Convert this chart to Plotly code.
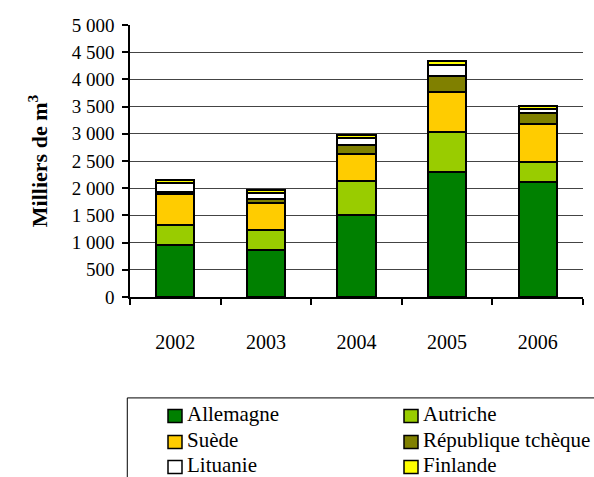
import plotly.graph_objects as go

years = ["2002", "2003", "2004", "2005", "2006"]
allemagne = [950, 860, 1500, 2300, 2110]
autriche = [380, 370, 640, 740, 370]
suede = [560, 500, 490, 730, 700]
rep_tcheque = [45, 65, 160, 300, 200]
lituanie = [160, 115, 135, 200, 70]
finlande = [50, 50, 60, 70, 70]

series = [
    ("Allemagne", allemagne, "#008000"),
    ("Autriche", autriche, "#99CC00"),
    ("Suède", suede, "#FFCC00"),
    ("République tchèque", rep_tcheque, "#808000"),
    ("Lituanie", lituanie, "#FFFFFF"),
    ("Finlande", finlande, "#FFFF00"),
]

FONT = "Liberation Serif"

fig = go.Figure()
for name, vals, color in series:
    fig.add_trace(go.Bar(
        x=years, y=vals, name=name,
        marker=dict(color=color, line=dict(color="black", width=2)),
        showlegend=False,
    ))

# Legend drawn as a framed two-column block below the chart
shapes = [
    dict(type="line", xref="paper", yref="paper",
         x0=-0.006, x1=1.05, y0=-0.371, y1=-0.371,
         line=dict(color="black", width=1)),
    dict(type="line", xref="paper", yref="paper",
         x0=-0.006, x1=-0.006, y0=-0.371, y1=-0.7,
         line=dict(color="black", width=1)),
]
annotations = []
W, H = 453.0, 272.0  # plot area size in px
x0_px, y0_px = 130.0, 25.0
col_x = [168.0, 404.0]
row_y = [416.0, 442.0, 467.0]
for i, (name, vals, color) in enumerate(series):
    cx = col_x[i % 2]
    cy = row_y[i // 2]
    sx0 = (cx - x0_px) / W
    sx1 = (cx + 14 - x0_px) / W
    sy0 = 1 - (cy - 6.5 - y0_px) / H
    sy1 = 1 - (cy + 6.5 - y0_px) / H
    shapes.append(dict(type="rect", xref="paper", yref="paper",
                       x0=sx0, x1=sx1, y0=sy1, y1=sy0,
                       fillcolor=color, line=dict(color="black", width=1.5)))
    annotations.append(dict(
        text=name, xref="paper", yref="paper",
        x=(cx + 17 - x0_px) / W, y=1 - (cy - 2 - y0_px) / H,
        xanchor="left", yanchor="middle", showarrow=False,
        font=dict(family=FONT, size=21, color="black"),
    ))

fig.update_layout(
    width=594, height=477,
    margin=dict(l=130, r=11, t=25, b=180),
    paper_bgcolor="white", plot_bgcolor="white",
    barmode="stack", bargap=0.58,
    separators=", ",
    font=dict(family=FONT, size=19, color="black"),
    shapes=shapes, annotations=annotations,
    xaxis=dict(
        showline=True, linecolor="black", linewidth=1.5,
        ticks="outside", tickson="boundaries", ticklen=6,
        tickcolor="black", tickwidth=1.5,
        ticklabelstandoff=26,
        tickfont=dict(family=FONT, size=20),
        showgrid=False,
    ),
    yaxis=dict(
        range=[0, 5000], tickvals=list(range(0, 5001, 500)),
        tickformat=",d",
        showline=True, linecolor="black", linewidth=1.5,
        ticks="outside", ticklen=6, tickcolor="black", tickwidth=1.5,
        ticklabelstandoff=4,
        showgrid=True, gridcolor="#444444", gridwidth=1,
        zeroline=False,
        tickfont=dict(family=FONT, size=19),
        title=dict(text="<b>Milliers de m<sup>3</sup></b>",
                   font=dict(family=FONT, size=22), standoff=18),
    ),
)

fig.write_html("out.html")
